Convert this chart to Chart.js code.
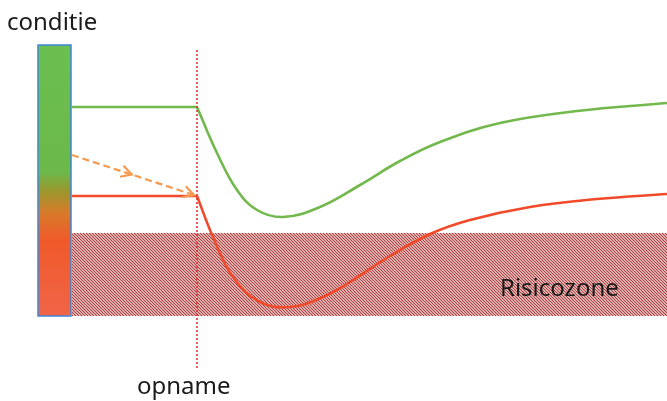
<!DOCTYPE html>
<html>
<head>
<meta charset="utf-8">
<script src="https://cdn.jsdelivr.net/npm/chart.js@4/dist/chart.umd.min.js"></script>
<style>
  html, body { margin: 0; padding: 0; background: #ffffff; }
  #wrap { position: relative; width: 667px; height: 401px; }
</style>
</head>
<body>
<div id="wrap"><canvas id="conditieChart"></canvas></div>
<script>
// Tijd (opname = 0) en conditie, in willekeurige eenheden
const tijdVoor = [-12.5, 0];
const groenVoor = [29.4, 29.4];
const roodVoor = [20.5, 20.5];

const groenTijd = [0, 2, 4, 6, 8.6, 12.3, 16.3, 20.3, 24.3, 30.3, 38, 47];
const groenNa = [29.4, 24.8, 21.1, 19.1, 18.4, 19.4, 21.6, 24.0, 25.9, 27.8, 29.0, 29.8];

const roodTijd = [0, 1.6, 3.6, 6.3, 9.3, 12.6, 15.3, 19.3, 23.3, 27.3, 33.3, 40, 47];
const roodNa = [20.5, 16.4, 12.4, 9.9, 9.4, 10.4, 11.9, 14.5, 16.7, 18.1, 19.4, 20.2, 20.7];

// Risicozone
const risicoTijd = [-12.5, 47];
const risicoBoven = [16.8, 16.8];
const risicoOnder = 8.5;

// Conditiebalk links
const balkTijd = [-15.9, -12.6];
const balkConditie = [8.5, 35.6];

// Stippellijn-pijl (verslechtering voor opname)
const pijlTijd = [-12.5, -0.3];
const pijlConditie = [24.6, 20.6];

// Opname-lijn
const opnameTijd = 0;
const opnameConditie = [3.1, 35.1];

const labels = { conditie: 'conditie', opname: 'opname', risico: 'Risicozone' };

function punten(xs, ys) {
    return xs.map((x, i) => ({ x: x, y: ys[i] }));
}

// Arcering voor de risicozone
function maakArcering() {
    const c = document.createElement('canvas');
    c.width = 3;
    c.height = 3;
    const g = c.getContext('2d');
    g.fillStyle = '#ffffff';
    g.fillRect(0, 0, 3, 3);
    g.strokeStyle = '#b04444';
    g.lineWidth = 1.25;
    g.beginPath();
    g.moveTo(0, 0); g.lineTo(3, 3);
    g.moveTo(-1.5, 1.5); g.lineTo(1.5, 4.5);
    g.moveTo(1.5, -1.5); g.lineTo(4.5, 1.5);
    g.stroke();
    return g.createPattern(c, 'repeat');
}

function pijlpunt(ctx, x, y, hoek, len) {
    ctx.beginPath();
    ctx.moveTo(x - len * Math.cos(hoek - 0.5), y - len * Math.sin(hoek - 0.5));
    ctx.lineTo(x, y);
    ctx.lineTo(x - len * Math.cos(hoek + 0.5), y - len * Math.sin(hoek + 0.5));
    ctx.stroke();
}

// Plugin voor balk, opname-lijn, pijl en teksten
const extraTekening = {
    id: 'extraTekening',
    beforeDatasetsDraw(chart) {
        const { ctx, scales: { x, y } } = chart;
        // conditiebalk met kleurverloop
        const x0 = x.getPixelForValue(balkTijd[0]);
        const x1 = x.getPixelForValue(balkTijd[1]);
        const yTop = y.getPixelForValue(balkConditie[1]);
        const yBot = y.getPixelForValue(balkConditie[0]);
        const grad = ctx.createLinearGradient(0, yTop, 0, yBot);
        grad.addColorStop(0, '#6abf50');
        grad.addColorStop(0.47, '#6cb84a');
        grad.addColorStop(0.535, '#98982e');
        grad.addColorStop(0.62, '#d87a2a');
        grad.addColorStop(0.72, '#f05a2a');
        grad.addColorStop(1, '#f06448');
        ctx.save();
        ctx.fillStyle = grad;
        ctx.fillRect(x0, yTop, x1 - x0, yBot - yTop);
        ctx.strokeStyle = '#3d86d6';
        ctx.lineWidth = 1.5;
        ctx.strokeRect(x0, yTop, x1 - x0, yBot - yTop);
        ctx.restore();
    },
    afterDatasetsDraw(chart) {
        const { ctx, scales: { x, y } } = chart;
        ctx.save();
        // opname stippellijn
        const ox = x.getPixelForValue(opnameTijd);
        ctx.strokeStyle = '#e02828';
        ctx.lineWidth = 1.5;
        ctx.setLineDash([2, 2]);
        ctx.beginPath();
        ctx.moveTo(ox, y.getPixelForValue(opnameConditie[1]));
        ctx.lineTo(ox, y.getPixelForValue(opnameConditie[0]));
        ctx.stroke();

        // gestippelde pijl
        const ax0 = x.getPixelForValue(pijlTijd[0]);
        const ay0 = y.getPixelForValue(pijlConditie[0]);
        const ax1 = x.getPixelForValue(pijlTijd[1]);
        const ay1 = y.getPixelForValue(pijlConditie[1]);
        ctx.strokeStyle = '#f5994f';
        ctx.lineWidth = 2.2;
        ctx.setLineDash([7, 4]);
        ctx.beginPath();
        ctx.moveTo(ax0, ay0);
        ctx.lineTo(ax1, ay1);
        ctx.stroke();
        ctx.setLineDash([]);
        const hoek = Math.atan2(ay1 - ay0, ax1 - ax0);
        pijlpunt(ctx, ax0 + (ax1 - ax0) * 0.49, ay0 + (ay1 - ay0) * 0.49, hoek, 12);
        pijlpunt(ctx, ax1, ay1, hoek, 12);

        // teksten
        ctx.fillStyle = '#1a1a1a';
        ctx.textBaseline = 'alphabetic';
        ctx.font = '24px "Noto Sans", sans-serif';
        ctx.textAlign = 'left';
        ctx.fillText(labels.conditie, 7, 30);
        ctx.fillText(labels.opname, 137, 394);
        ctx.fillText(labels.risico, 500, 296);
        ctx.restore();
    }
};

const lijn = (data, kleur) => ({
    data: data,
    borderColor: kleur,
    borderWidth: 2.6,
    pointRadius: 0,
    fill: false
});

const curve = (data, kleur) => Object.assign(lijn(data, kleur), {
    tension: 0.4
});

// datasets worden van achter naar voor getekend: de risicozone staat als laatste
const data = {
    datasets: [
        lijn(punten(tijdVoor, groenVoor), '#72b84c'),
        curve(punten(groenTijd, groenNa), '#72b84c'),
        lijn(punten(tijdVoor, roodVoor), '#f04a2a'),
        curve(punten(roodTijd, roodNa), '#f04a2a'),
        {
            data: punten(risicoTijd, risicoBoven),
            borderWidth: 0,
            pointRadius: 0,
            backgroundColor: maakArcering(),
            fill: { value: risicoOnder }
        }
    ]
};

const config = {
    type: 'line',
    data: data,
    options: {
        responsive: true,
        maintainAspectRatio: false,
        animation: false,
        layout: { padding: 0 },
        plugins: {
            legend: { display: false },
            tooltip: { enabled: false },
            title: { display: false }
        },
        scales: {
            x: { type: 'linear', min: -19.7, max: 47, display: false },
            y: { min: 0, max: 40.1, display: false }
        }
    },
    plugins: [extraTekening]
};

new Chart(document.getElementById('conditieChart'), config);
</script>
</body>
</html>
